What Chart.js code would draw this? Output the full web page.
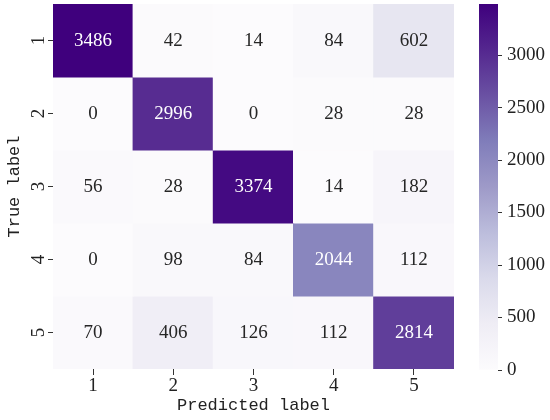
<!DOCTYPE html>
<html>
<head>
<meta charset="utf-8">
<script src="https://cdn.jsdelivr.net/npm/chart.js@4.4.1/dist/chart.umd.min.js"></script>
<style>
  body { margin: 0; background: #fff; }
  #wrap { position: relative; width: 550px; height: 420px; }
  #heat { position: absolute; left: 0; top: 0; }
  #barra { position: absolute; left: 470px; top: 0; }
</style>
</head>
<body>
<div id="wrap">
  <canvas id="heat" width="460" height="420"></canvas>
  <canvas id="barra" width="80" height="420"></canvas>
</div>
<script>
// ── Dados da matriz de confusão ──
const classes = ["1", "2", "3", "4", "5"];
const linha1 = [3486,   42,   14,   84,  602];
const linha2 = [   0, 2996,    0,   28,   28];
const linha3 = [  56,   28, 3374,   14,  182];
const linha4 = [   0,   98,   84, 2044,  112];
const linha5 = [  70,  406,  126,  112, 2814];
const matriz = [linha1, linha2, linha3, linha4, linha5];

const vMin = 0;
const vMax = 3486;
const ticksBarra = [0, 500, 1000, 1500, 2000, 2500, 3000];

// mapa de cores "Purples" (matplotlib)
const PURPLES = ["#fcfbfd", "#efedf5", "#dadaeb", "#bcbddc", "#9e9ac8",
                 "#807dba", "#6a51a3", "#54278f", "#3f007d"];

const FONTE_NUM = "'Liberation Serif', 'DejaVu Serif', serif";
const FONTE_TIT = "'Liberation Mono', 'DejaVu Sans Mono', monospace";
const COR_TEXTO = "#222";

function hexParaRgb(h) {
  return [1, 3, 5].map(i => parseInt(h.substr(i, 2), 16));
}

function corDoValor(v) {
  let t = (v - vMin) / (vMax - vMin);
  t = Math.max(0, Math.min(1, t));
  const pos = t * (PURPLES.length - 1);
  const i = Math.min(Math.floor(pos), PURPLES.length - 2);
  const f = pos - i;
  const a = hexParaRgb(PURPLES[i]), b = hexParaRgb(PURPLES[i + 1]);
  return a.map((x, k) => Math.round(x + (b[k] - x) * f));
}

function luminancia(rgb) {
  const l = rgb.map(x => {
    x = x / 255;
    return x <= 0.03928 ? x / 12.92 : Math.pow((x + 0.055) / 1.055, 2.4);
  });
  return 0.2126 * l[0] + 0.7152 * l[1] + 0.0722 * l[2];
}

// ================================================================
// 1. MAPA DE CALOR (barras flutuantes, uma série por linha)
// ================================================================

const datasets = matriz.map((linha, r) => ({
  data: linha.map(() => [r, r + 1]),
  valores: linha,
  backgroundColor: linha.map(v => "rgb(" + corDoValor(v).join(",") + ")"),
  borderWidth: 0,
  inflateAmount: 0.6,
  barPercentage: 1,
  categoryPercentage: 1,
  grouped: false,
}));

// números dentro das células + rótulos girados do eixo y
const textoCelulas = {
  id: "textoCelulas",
  afterDatasetsDraw(chart) {
    const ctx = chart.ctx;
    ctx.save();
    ctx.font = "19px " + FONTE_NUM;
    ctx.textAlign = "center";
    ctx.textBaseline = "middle";
    chart.data.datasets.forEach((ds, r) => {
      chart.getDatasetMeta(r).data.forEach((el, c) => {
        const v = ds.valores[c];
        const p = el.getCenterPoint();
        ctx.fillStyle = luminancia(corDoValor(v)) < 0.408 ? "#ffffff" : "#262626";
        ctx.fillText(String(v), p.x, p.y + 1);
      });
    });

    const y = chart.scales.y;
    ctx.fillStyle = COR_TEXTO;
    y.ticks.forEach((t, i) => {
      const py = y.getPixelForValue(t.value);
      ctx.save();
      ctx.translate(y.right - 14, py);
      ctx.rotate(-Math.PI / 2);
      ctx.fillText(classes[i], 0, 0);
      ctx.restore();
    });
    ctx.restore();
  }
};

new Chart(document.getElementById("heat"), {
  type: "bar",
  data: { labels: classes, datasets: datasets },
  plugins: [textoCelulas],
  options: {
    responsive: false,
    animation: false,
    layout: { padding: { top: 4, right: 6, left: 0, bottom: 0 } },
    plugins: { legend: { display: false }, tooltip: { enabled: false } },
    scales: {
      x: {
        offset: true,
        grid: { display: true, offset: false, drawOnChartArea: false, tickLength: 6, color: "#333", tickWidth: 1 },
        border: { display: false },
        ticks: { color: COR_TEXTO, font: { family: FONTE_NUM, size: 19 }, padding: 0 },
        title: { display: true, text: "Predicted label", color: COR_TEXTO,
                 font: { family: FONTE_TIT, size: 17 }, padding: { top: 0, bottom: 4 } },
        afterFit: s => { s.height = 51; }
      },
      y: {
        min: 0, max: 5, reverse: true,
        afterBuildTicks: s => { s.ticks = [0.5, 1.5, 2.5, 3.5, 4.5].map(v => ({ value: v })); },
        grid: { display: true, drawOnChartArea: false, tickLength: 5, color: "#333", tickWidth: 1 },
        border: { display: false },
        ticks: { display: false },
        title: { display: true, text: "True label", color: COR_TEXTO,
                 font: { family: FONTE_TIT, size: 17 }, padding: { top: 4, bottom: 0 } },
        afterFit: s => { s.width = 53; }
      }
    }
  }
});

// ================================================================
// 2. BARRA DE CORES
// ================================================================

function gradienteBarra(context) {
  const chart = context.chart;
  if (!chart.chartArea) return PURPLES[4];
  const y = chart.scales.y;
  const g = chart.ctx.createLinearGradient(0, y.getPixelForValue(vMin), 0, y.getPixelForValue(vMax));
  PURPLES.forEach((c, i) => g.addColorStop(i / (PURPLES.length - 1), c));
  return g;
}

const rotulosBarra = {
  id: "rotulosBarra",
  afterDraw(chart) {
    const ctx = chart.ctx;
    const y = chart.scales.y;
    ctx.save();
    ctx.font = "19px " + FONTE_NUM;
    ctx.fillStyle = COR_TEXTO;
    ctx.textAlign = "left";
    ctx.textBaseline = "middle";
    ticksBarra.forEach(v => {
      ctx.fillText(String(v), chart.chartArea.right + 9, y.getPixelForValue(v));
    });
    ctx.restore();
  }
};

new Chart(document.getElementById("barra"), {
  type: "bar",
  data: {
    labels: [""],
    datasets: [{
      data: [[vMin, vMax]],
      backgroundColor: gradienteBarra,
      borderWidth: 0,
      barPercentage: 1,
      categoryPercentage: 1,
    }]
  },
  plugins: [rotulosBarra],
  options: {
    responsive: false,
    animation: false,
    layout: { padding: { top: 4, left: 9, bottom: 50, right: 0 } },
    plugins: { legend: { display: false }, tooltip: { enabled: false } },
    scales: {
      x: { display: false },
      y: {
        position: "right",
        min: vMin, max: vMax,
        afterBuildTicks: s => { s.ticks = ticksBarra.map(v => ({ value: v })); },
        grid: { display: true, drawOnChartArea: false, tickLength: 4, color: "#333" },
        border: { display: false },
        ticks: { display: false },
        afterFit: s => { s.width = 52; }
      }
    }
  }
});
</script>
</body>
</html>
